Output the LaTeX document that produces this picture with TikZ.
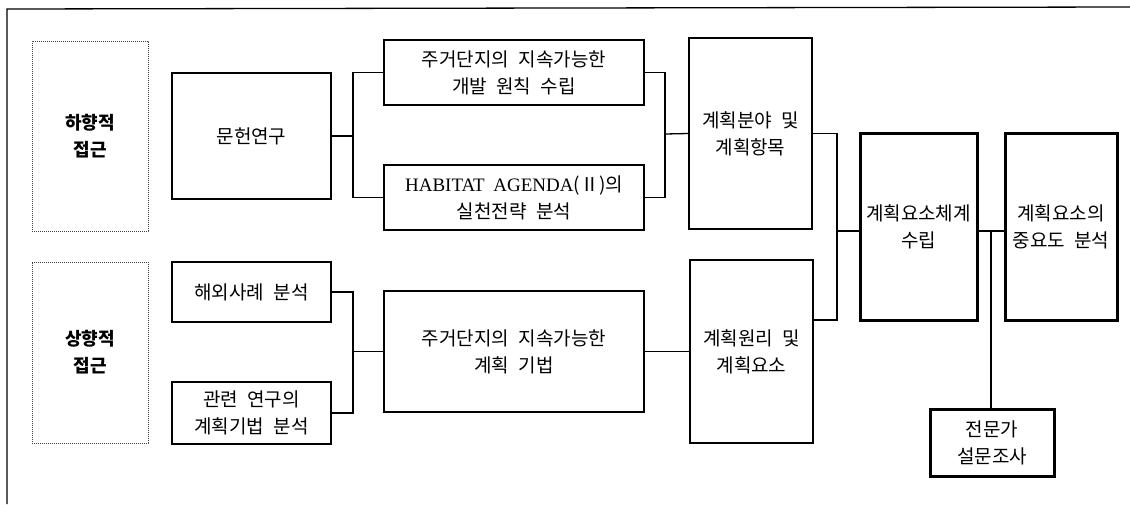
\documentclass[tikz,border=0pt]{standalone}
\usepackage{fontspec}
\setmainfont[WordSpace=2.2]{Noto Sans CJK KR}
\newfontfamily\lat[WordSpace=1.8]{Liberation Serif}
\begin{document}
\begin{tikzpicture}[x=1pt,y=-1pt,
  every node/.style={font=\fontsize{19}{27}\selectfont, align=center, inner sep=0pt},
  box/.style={draw, line width=1.3pt},
  tbox/.style={draw, line width=3pt},
  dbox/.style={draw=black!75, line width=0.9pt, dash pattern=on 1.2pt off 0.8pt,
    font=\fontsize{18}{27}\selectfont\bfseries},
  conn/.style={line width=1.3pt}]
\useasboundingbox (0,0) rectangle (1130,504);
% frame
\draw[line width=1.3pt] (7,504) -- (7,9) -- (1130,7);
% dotted boxes
\node[dbox, minimum width=116, minimum height=190] (da) at (90,136) {하향적\\접근};
\node[dbox, minimum width=116, minimum height=181] (ua) at (90,352.5) {상향적\\접근};
% boxes
\node[box, minimum width=159, minimum height=126] (mh) at (251.5,136) {문헌연구};
\node[box, minimum width=260, minimum height=65] (p1) at (514,72.5) {주거단지의 지속가능한\\개발 원칙 수립};
\node[box, minimum width=260, minimum height=65] (p2) at (514,197.5) {{\lat HABITAT AGENDA}(Ⅱ)의\\실천전략 분석};
\node[box, minimum width=123, minimum height=191] (fa) at (750.5,133.5) {계획분야 및\\계획항목};
\node[box, minimum width=159, minimum height=60] (hw) at (251.5,292) {해외사례 분석};
\node[box, minimum width=159, minimum height=62] (gy) at (251.5,413) {관련 연구의\\계획기법 분석};
\node[box, minimum width=260, minimum height=121] (jg) at (514,351.5) {주거단지의 지속가능한\\계획 기법};
\node[box, minimum width=123, minimum height=183] (wl) at (751.5,351.5) {계획원리 및\\계획요소};
\node[tbox, minimum width=117, minimum height=187] (ch) at (918.5,226.5) {계획요소체계\\수립};
\node[tbox, minimum width=112, minimum height=187] (jy) at (1061,226.5) {계획요소의\\중요도 분석};
\node[tbox, minimum width=124, minimum height=67] (jm) at (992,442.5) {전문가\\설문조사};
% junctions
\coordinate (j1) at (353,136);
\coordinate (j2) at (665,134);
\coordinate (j3) at (353,351.5);
\coordinate (j4) at (837,231);
\coordinate (j5) at (991,231);
% connectors
\draw[conn] (mh.east) -- (j1);
\draw[conn] (p1.west) -| (j1) |- (p2.west);
\draw[conn] (p1.east) -| (j2) |- (p2.east);
\draw[conn] (j2) -- (fa.west);
\draw[conn] (hw.east) -| (j3) |- (gy.east);
\draw[conn] (j3) -- (jg.west);
\draw[conn] (jg.east) -- (wl.west);
\draw[conn] (fa.east) -| (j4) |- ([yshift=31.5pt]wl.east);
\draw[conn] (j4) -- (j4 -| ch.west);
\draw[conn] (j5 -| ch.east) -- (j5 -| jy.west);
\draw[conn] (j5) -- (j5 |- jm.north);
\end{tikzpicture}
\end{document}
